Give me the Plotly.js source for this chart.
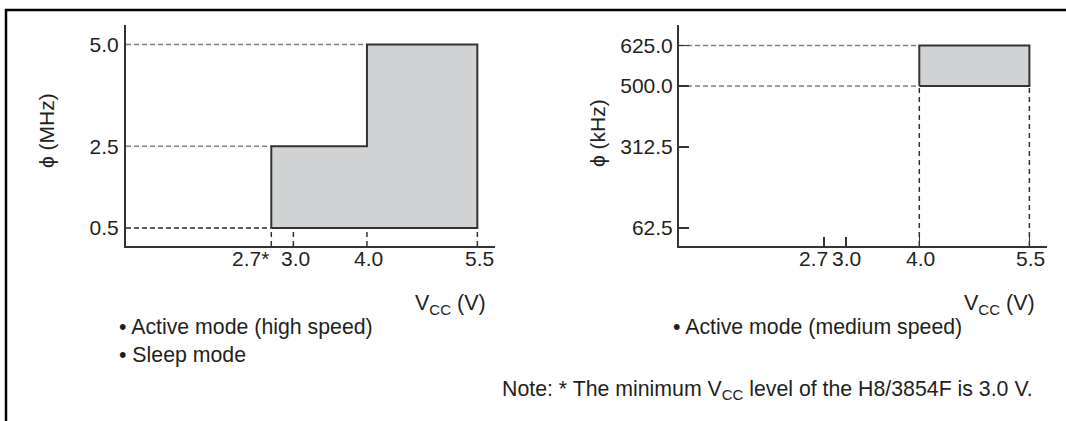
<!DOCTYPE html>
<html>
<head>
<meta charset="utf-8">
<script src="https://cdn.plot.ly/plotly-3.0.1.min.js"></script>
<style>
  html, body { margin: 0; padding: 0; background: #ffffff; }
  #chart { width: 1066px; height: 421px; }
</style>
</head>
<body>
<div id="chart"></div>
<script>
// ---- data ----
const vccTicks = [2.7, 3.0, 4.0, 5.5];
const vccTickTextLeft = ["2.7*", "3.0", "4.0", "5.5"];
const vccTickTextRight = ["2.7", "3.0", "4.0", "5.5"];

const highSpeedX = [2.7, 2.7, 4.0, 4.0, 5.5, 5.5, 2.7];
const highSpeedY = [0.5, 2.5, 2.5, 5.0, 5.0, 0.5, 0.5];
const mhzTicks = [0.5, 2.5, 5.0];
const mhzTickText = ["0.5", "2.5", "5.0"];

const mediumSpeedX = [4.0, 4.0, 5.5, 5.5, 4.0];
const mediumSpeedY = [500.0, 625.0, 625.0, 500.0, 500.0];
const khzTicks = [62.5, 312.5, 500.0, 625.0];
const khzTickText = ["62.5", "312.5", "500.0", "625.0"];

const leftYTitle = "ϕ (MHz)";
const rightYTitle = "ϕ (kHz)";
const xTitle = "V<sub>CC</sub> (V)";
const leftNotes = ["• Active mode (high speed)", "• Sleep mode"];
const rightNotes = ["• Active mode (medium speed)"];
const footNote = "Note: * The minimum V<sub>CC</sub> level of the H8/3854F is 3.0 V.";

// ---- styling / scales ----
const W = 1066, H = 421;
const xRange = [0.7256, 5.740];
const yRangeL = [0.056, 5.476];
const yRangeR = [6.9, 688.2];
const TXT = '#231f20';
const AX = '#333333';
const FONT = 'Liberation Sans, Arial, Helvetica, sans-serif';
const fillGray = '#d1d3d4';

const px = v => v / W;
const py = v => (H - v) / H;

const traces = [];
function dashed(xs, ys, xa, ya, color, dash) {
  traces.push({
    x: xs, y: ys, xaxis: xa, yaxis: ya, mode: 'lines', type: 'scatter',
    line: { color: color, width: 1.5, dash: dash },
    hoverinfo: 'skip', showlegend: false
  });
}

// left guides
dashed([xRange[0], highSpeedX[3]], [mhzTicks[2], mhzTicks[2]], 'x', 'y', '#808080', '5px,3px');
dashed([xRange[0], highSpeedX[0]], [mhzTicks[1], mhzTicks[1]], 'x', 'y', '#808080', '5px,3px');
dashed([xRange[0], highSpeedX[0]], [mhzTicks[0], mhzTicks[0]], 'x', 'y', '#2a2a2a', '5px,3px');
vccTicks.forEach(v => dashed([v, v], [yRangeL[0], mhzTicks[0]], 'x', 'y', '#333333', '5px,4px'));

// right guides
dashed([xRange[0], mediumSpeedX[0]], [khzTicks[3], khzTicks[3]], 'x2', 'y2', '#808080', '5px,3px');
dashed([xRange[0], mediumSpeedX[0]], [khzTicks[2], khzTicks[2]], 'x2', 'y2', '#808080', '5px,3px');
[mediumSpeedX[0], mediumSpeedX[2]].forEach(v =>
  dashed([v, v], [yRangeR[0], khzTicks[2]], 'x2', 'y2', '#333333', '5px,4px'));

// regions
traces.push({
  x: highSpeedX, y: highSpeedY, xaxis: 'x', yaxis: 'y', type: 'scatter', mode: 'lines',
  fill: 'toself', fillcolor: fillGray, line: { color: AX, width: 2 },
  hoverinfo: 'skip', showlegend: false
});
traces.push({
  x: mediumSpeedX, y: mediumSpeedY, xaxis: 'x2', yaxis: 'y2', type: 'scatter', mode: 'lines',
  fill: 'toself', fillcolor: fillGray, line: { color: AX, width: 2 },
  hoverinfo: 'skip', showlegend: false
});

const tickFont = { family: FONT, size: 21, color: TXT };
const baseX = {
  range: xRange, showgrid: false, zeroline: false, showline: true, linecolor: AX, linewidth: 2,
  tickmode: 'array', tickvals: vccTicks, showticklabels: false, fixedrange: true
};
const baseY = {
  showgrid: false, zeroline: false, showline: true, linecolor: AX, linewidth: 2,
  tickmode: 'array', tickfont: tickFont, fixedrange: true
};

const ann = [];
function addText(text, x, y, xanchor, size, extra) {
  ann.push(Object.assign({
    text: text, x: x, y: y, xref: 'paper', yref: 'paper', xanchor: xanchor, yanchor: 'middle',
    showarrow: false, font: { family: FONT, size: size, color: TXT }
  }, extra || {}));
}
// x tick labels, placed on each axis scale
vccTicks.forEach((v, i) => {
  ann.push({ text: vccTickTextLeft[i], x: v, xref: 'x', y: py(258.5), yref: 'paper',
    xanchor: i === 0 ? 'right' : 'center', yanchor: 'middle', xshift: i === 0 ? 0 : 2,
    showarrow: false, font: tickFont });
  ann.push({ text: vccTickTextRight[i], x: v, xref: 'x2', y: py(258.5), yref: 'paper',
    xanchor: 'center', yanchor: 'middle', xshift: i === 0 ? -10 : 1,
    showarrow: false, font: tickFont });
});
// axis titles
addText(leftYTitle, px(46), py(131), 'center', 21, { textangle: -90 });
addText(rightYTitle, px(597), py(133), 'center', 21, { textangle: -90 });
addText(xTitle, px(488), py(304), 'right', 21.5);
addText(xTitle, px(1037), py(304), 'right', 21.5);
// notes
addText(leftNotes[0], px(117), py(327), 'left', 21.3);
addText(leftNotes[1], px(117), py(355), 'left', 21.3);
addText(rightNotes[0], px(671), py(327), 'left', 21.3);
addText(footNote, px(1035), py(390), 'right', 21.3);

const layout = {
  width: W, height: H,
  margin: { l: 0, r: 0, t: 0, b: 0 },
  paper_bgcolor: '#ffffff', plot_bgcolor: 'rgba(0,0,0,0)',
  showlegend: false, hovermode: false,
  font: { family: FONT, color: TXT },
  xaxis: Object.assign({}, baseX, { domain: [px(126), px(495)], anchor: 'y', ticks: '' }),
  yaxis: Object.assign({}, baseY, { domain: [py(246), py(25)], anchor: 'x', range: yRangeL,
    tickvals: mhzTicks, ticktext: mhzTickText, ticks: '', ticklabelstandoff: 1 }),
  xaxis2: Object.assign({}, baseX, { domain: [px(679), px(1047)], anchor: 'y2', ticks: 'inside',
    ticklen: 9, tickwidth: 1.5, tickcolor: AX }),
  yaxis2: Object.assign({}, baseY, { domain: [py(246), py(25)], anchor: 'x2', range: yRangeR,
    tickvals: khzTicks, ticktext: khzTickText, ticks: 'inside', ticklen: 10, tickwidth: 1.5,
    tickcolor: AX, ticklabelstandoff: 0 }),
  annotations: ann,
  shapes: [
    { type: 'line', xref: 'paper', yref: 'paper', x0: px(5), x1: 1, y0: py(10), y1: py(10),
      line: { color: '#000000', width: 2.5 } },
    { type: 'line', xref: 'paper', yref: 'paper', x0: px(6), x1: px(6), y0: py(9), y1: 0,
      line: { color: '#000000', width: 2.5 } }
  ]
};

Plotly.newPlot('chart', traces, layout, { displayModeBar: false, staticPlot: true });
</script>
</body>
</html>
